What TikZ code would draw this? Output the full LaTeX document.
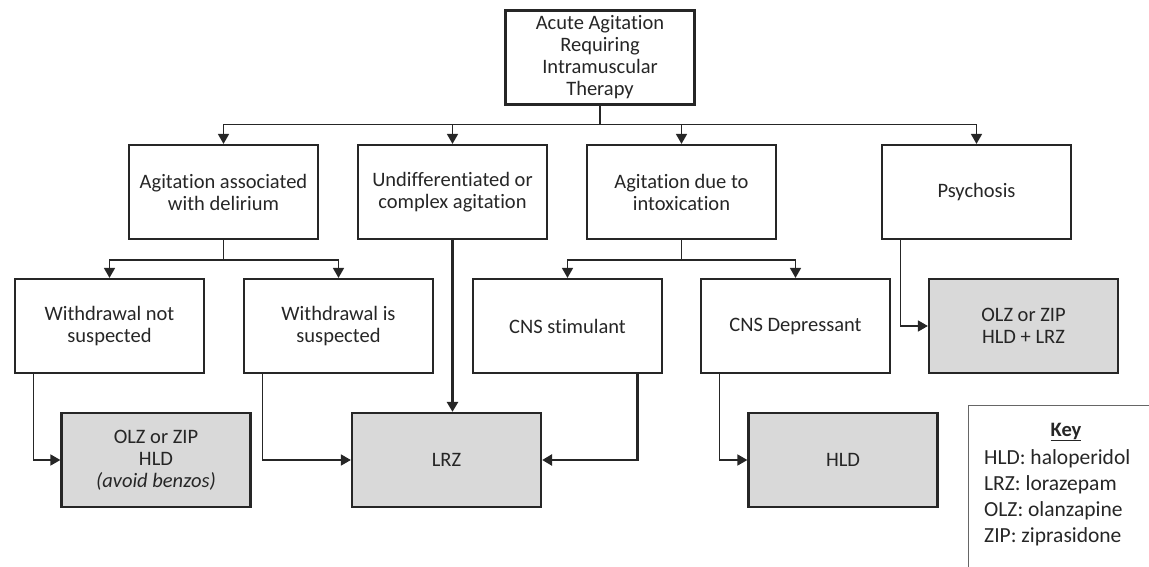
\documentclass[tikz,border=0pt]{standalone}
\usepackage{fontspec}
\setmainfont{Carlito}[Ligatures=NoCommon]
\usetikzlibrary{arrows.meta}

\begin{document}
\begin{tikzpicture}[x=1pt, y=-1pt,
  every node/.style={font=\fontsize{20.5}{22}\selectfont, text=black!85},
  block/.style={draw=black!85, line width=2.2pt, minimum width=189pt,
    minimum height=94pt, align=center, inner sep=0pt},
  drug/.style={block, fill=black!15},
  arr/.style={line width=1.6pt, draw=black!85, -{Triangle[length=10pt,width=11pt]}},
  bigarr/.style={arr, line width=2.6pt}]
  \useasboundingbox (0,0) rectangle (1149,567);

  % top
  \node[block] (acute) at (600,57.5) {Acute Agitation\\Requiring\\Intramuscular\\Therapy};

  % first level
  \node[block] (delir)  at (223.5,192) {Agitation associated\\with delirium};
  \node[block] (undiff) at (452.5,192) {Undifferentiated or\\complex agitation};
  \node[block] (intox)  at (681.5,192) {Agitation due to\\intoxication};
  \node[block] (psych)  at (976.5,192) {Psychosis};

  % second level
  \node[block] (wnot) at (109.5,326) {Withdrawal not\\suspected};
  \node[block] (wis)  at (338.5,326) {Withdrawal is\\suspected};
  \node[block] (stim) at (567.5,326) {CNS stimulant};
  \node[block] (dep)  at (795.5,326) {CNS Depressant};
  \node[drug] (olzhl) at (1023.5,326) {OLZ or ZIP\\HLD + LRZ};

  % treatments
  \node[drug] (olzav) at (156,460) {OLZ or ZIP\\HLD\\\textit{(avoid benzos)}};
  \node[drug] (lrz)   at (446.5,460) {LRZ};
  \node[drug] (hld)   at (843,460) {HLD};

  \foreach \n in {delir,undiff,intox,psych}{
    \draw[arr] (acute.south) -- ++(0,19) -| (\n.north);
  }
  \foreach \n in {wnot,wis}{
    \draw[arr] (delir.south) -- ++(0,20) -| (\n.north);
  }
  \foreach \n in {stim,dep}{
    \draw[arr] (intox.south) -- ++(0,20) -| (\n.north);
  }

  \draw[arr] ([xshift=-76pt]wnot.south) |- (olzav.west);
  \draw[arr] ([xshift=-76pt]wis.south) |- (lrz.west);
  \draw[bigarr] (undiff.south) -- (undiff.south |- lrz.north);
  \draw[bigarr] ([xshift=70pt]stim.south) |- (lrz.east);
  \draw[arr] ([xshift=-76pt]dep.south) |- (hld.west);
  \draw[arr] ([xshift=-76pt]psych.south) |- (olzhl.west);

  % key
  \draw[black!60, line width=1pt] (1152,405) -- (968,405) -- (968,570);
  \node (key) at (1066,432) {\underline{\textbf{Key}}};
  \foreach \abbr/\full [count=\i] in {HLD/haloperidol, LRZ/lorazepam,
      OLZ/olanzapine, ZIP/ziprasidone}{
    \node[anchor=west, inner sep=0pt, font=\fontsize{21.5}{24}\selectfont]
      (key\i) at (984,432+26.3*\i) {\abbr: \full};
  }
\end{tikzpicture}
\end{document}
